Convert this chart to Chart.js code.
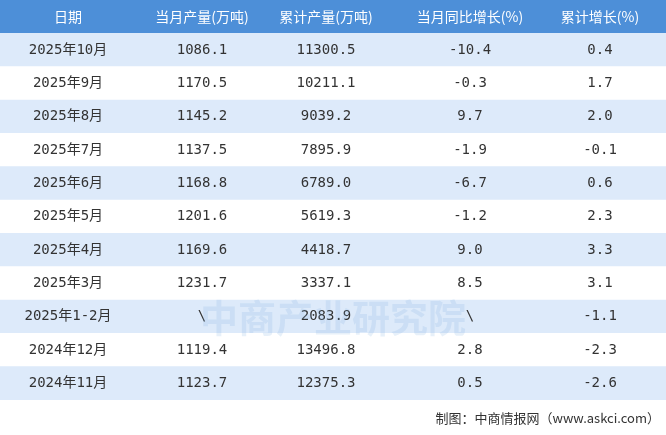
<!DOCTYPE html>
<html><head><meta charset="utf-8">
<script src="https://cdn.jsdelivr.net/npm/chart.js@4"></script>
<style>html,body{margin:0;padding:0;background:#fff}#wrap{width:666px;height:435px}</style>
</head><body><div id="wrap"><canvas id="tableChart"></canvas></div>
<script>
const headers = ['日期', '当月产量(万吨)', '累计产量(万吨)', '当月同比增长(%)', '累计增长(%)'];
const months = ['2025年10月', '2025年9月', '2025年8月', '2025年7月', '2025年6月', '2025年5月', '2025年4月', '2025年3月', '2025年1-2月', '2024年12月', '2024年11月'];
const monthlyOutput = ['1086.1', '1170.5', '1145.2', '1137.5', '1168.8', '1201.6', '1169.6', '1231.7', '\\', '1119.4', '1123.7'];
const cumulativeOutput = ['11300.5', '10211.1', '9039.2', '7895.9', '6789.0', '5619.3', '4418.7', '3337.1', '2083.9', '13496.8', '12375.3'];
const monthlyYoY = ['-10.4', '-0.3', '9.7', '-1.9', '-6.7', '-1.2', '9.0', '8.5', '\\', '2.8', '0.5'];
const cumulativeGrowth = ['0.4', '1.7', '2.0', '-0.1', '0.6', '2.3', '3.3', '3.1', '-1.1', '-2.3', '-2.6'];

const colCenters = [68, 202, 326, 470, 600];
const rowLabels = ['header', ...months];
const rowColors = rowLabels.map((r, i) => i === 0 ? '#4d8fd8' : (i % 2 === 1 ? '#ddeafa' : '#ffffff'));

const tableText = {
    id: 'tableText',
    afterDatasetsDraw(chart) {
        const ctx = chart.ctx, x = chart.scales.x, y = chart.scales.y;
        ctx.save();
        ctx.textAlign = 'center';
        ctx.textBaseline = 'middle';
        ctx.font = '14px "Noto Sans CJK SC"';
        ctx.fillStyle = '#ffffff';
        headers.forEach((h, c) => ctx.fillText(h, x.getPixelForValue(colCenters[c]), y.getPixelForValue(0)));
        const cols = [months, monthlyOutput, cumulativeOutput, monthlyYoY, cumulativeGrowth];
        ctx.fillStyle = '#333333';
        ctx.font = '14px "DejaVu Sans Mono", "Noto Sans CJK SC"';
        months.forEach((m, r) => {
            cols.forEach((col, c) => ctx.fillText(col[r], x.getPixelForValue(colCenters[c]), y.getPixelForValue(r + 1)));
        });
        // watermark
        ctx.font = 'bold 38px "Noto Sans CJK SC"';
        ctx.fillStyle = 'rgba(120,170,220,0.18)';
        ctx.fillText('中商产业研究院', 333, 318);
        ctx.font = '13px "Noto Sans CJK SC"';
        ctx.fillStyle = '#333333';
        ctx.textAlign = 'right';
        ctx.fillText('制图：中商情报网（www.askci.com）', 660, 418);
        ctx.restore();
    }
};

new Chart(document.getElementById('tableChart').getContext('2d'), {
    type: 'bar',
    data: {
        labels: rowLabels,
        datasets: [{
            data: rowLabels.map(() => [0, 666]),
            backgroundColor: rowColors,
            borderWidth: 0,
            barPercentage: 1,
            categoryPercentage: 1
        }]
    },
    options: {
        indexAxis: 'y',
        responsive: true,
        maintainAspectRatio: false,
        animation: false,
        layout: { padding: { top: 0, bottom: 35, left: 0, right: 0 } },
        plugins: { legend: { display: false }, tooltip: { enabled: false } },
        scales: {
            x: { type: 'linear', min: 0, max: 666, display: false },
            y: { display: false, offset: true }
        }
    },
    plugins: [tableText]
});
</script></body></html>
